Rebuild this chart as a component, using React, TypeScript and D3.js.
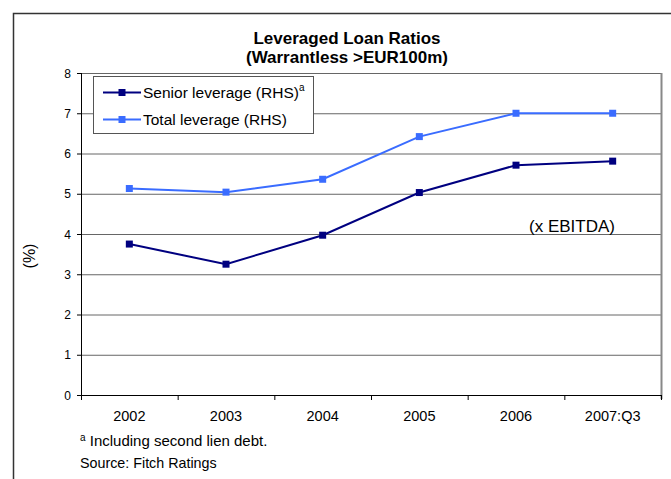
import React from "react";
import * as d3 from "d3";

const categories = ["2002", "2003", "2004", "2005", "2006", "2007:Q3"];
const seniorLeverage = [3.75, 3.25, 3.97, 5.03, 5.71, 5.81];
const totalLeverage = [5.13, 5.04, 5.36, 6.42, 7.0, 7.0];
const yTicks = [0, 1, 2, 3, 4, 5, 6, 7, 8];

const W = 671;
const H = 479;
const M = { left: 81, right: 661, top: 73, bottom: 395 };
const FONT = "Liberation Sans, Arial, sans-serif";

const series = [
  { name: "Senior leverage (RHS)", sup: "a", values: seniorLeverage, color: "#000080" },
  { name: "Total leverage (RHS)", sup: "", values: totalLeverage, color: "#3a6cff" },
];

export default function App() {
  const x = d3.scaleBand<string>().domain(categories).range([M.left, M.right]);
  const y = d3.scaleLinear().domain([0, 8]).range([M.bottom, M.top]);
  const line = d3
    .line<number>()
    .x((_, i) => (x(categories[i]) as number) + x.bandwidth() / 2)
    .y((d) => y(d));
  const tickXs = categories.map((c) => x(c) as number).concat([M.right]);

  return (
    <svg
      width={W}
      height={H}
      style={{ position: "absolute", left: 0, top: 0, background: "#fff" }}
      fontFamily={FONT}
    >
      <rect x={0} y={0} width={W} height={H} fill="#fff" />
      {/* outer frame */}
      <path d={`M13.5,${H} V13.5 H${W}`} fill="none" stroke="#333" strokeWidth={1.5} />
      {/* title */}
      <text x={347} y={44} textAnchor="middle" fontSize={17} fontWeight="bold" fill="#000">
        Leveraged Loan Ratios
      </text>
      <text x={347} y={63} textAnchor="middle" fontSize={17} fontWeight="bold" fill="#000">
        (Warrantless &gt;EUR100m)
      </text>
      {/* gridlines */}
      {yTicks.map((t) => (
        <line key={t} x1={M.left} x2={M.right} y1={y(t) + 0.5} y2={y(t) + 0.5} stroke="#666" strokeWidth={1} />
      ))}
      {/* right border of plot */}
      <line x1={M.right + 0.5} x2={M.right + 0.5} y1={M.top} y2={M.bottom + 4} stroke="#888" strokeWidth={2} />
      {/* left axis */}
      <line x1={M.left + 0.5} x2={M.left + 0.5} y1={M.top} y2={M.bottom + 5} stroke="#000" />
      {yTicks.map((t) => (
        <g key={"yt" + t}>
          <line x1={M.left - 4} x2={M.left} y1={y(t) + 0.5} y2={y(t) + 0.5} stroke="#000" />
          <text x={71} y={y(t) + 4.5} textAnchor="end" fontSize={12} fill="#000">
            {t}
          </text>
        </g>
      ))}
      {/* bottom axis */}
      <line x1={M.left} x2={M.right} y1={M.bottom + 0.5} y2={M.bottom + 0.5} stroke="#000" />
      {tickXs.map((tx, i) => (
        <line key={"xt" + i} x1={tx + 0.5} x2={tx + 0.5} y1={M.bottom} y2={M.bottom + 5} stroke="#000" />
      ))}
      {categories.map((c) => (
        <text
          key={c}
          x={(x(c) as number) + x.bandwidth() / 2}
          y={421}
          textAnchor="middle"
          fontSize={14.5}
          fill="#000"
        >
          {c}
        </text>
      ))}
      {/* y axis title */}
      <text
        transform={`translate(35,256) rotate(-90)`}
        textAnchor="middle"
        fontSize={16}
        fill="#000"
      >
        (%)
      </text>
      <text x={572} y={232} textAnchor="middle" fontSize={17} fill="#000">
        (x EBITDA)
      </text>
      {/* series */}
      {series.map((s) => (
        <g key={s.name}>
          <path d={line(s.values) as string} fill="none" stroke={s.color} strokeWidth={2} />
          {s.values.map((v, i) => (
            <rect
              key={i}
              x={(x(categories[i]) as number) + x.bandwidth() / 2 - 3.5}
              y={y(v) - 3.5}
              width={7}
              height={7}
              fill={s.color}
            />
          ))}
        </g>
      ))}
      {/* legend */}
      <rect x={93.5} y={76.5} width={220} height={57} fill="#fff" stroke="#555" strokeWidth={1} />
      {series.map((s, i) => {
        const ly = 92.5 + i * 27;
        return (
          <g key={"lg" + s.name}>
            <line x1={103} x2={141} y1={ly} y2={ly} stroke={s.color} strokeWidth={2} />
            <rect x={118.5} y={ly - 3.5} width={7} height={7} fill={s.color} />
            <text x={143} y={ly + 5.5} fontSize={15.5} fill="#000">
              {s.name}
              {s.sup ? (
                <tspan fontSize={10} dy={-7}>
                  {s.sup}
                </tspan>
              ) : null}
            </text>
          </g>
        );
      })}
      {/* footnotes */}
      <text x={80} y={446} fontSize={15} fill="#000">
        <tspan fontSize={10} dy={-5}>a</tspan>
        <tspan dy={5}> Including second lien debt.</tspan>
      </text>
      <text x={80} y={468} fontSize={14.3} fill="#000">
        Source:  Fitch Ratings
      </text>
    </svg>
  );
}
